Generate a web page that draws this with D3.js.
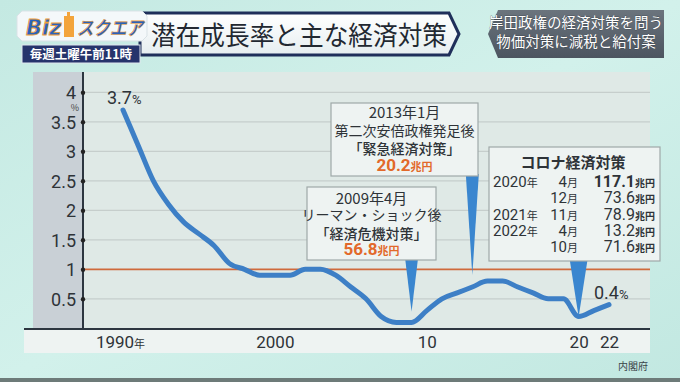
<!DOCTYPE html>
<html><head><meta charset="utf-8">
<script src="https://cdn.jsdelivr.net/npm/d3@7"></script>
<style>
html,body{margin:0;padding:0;background:#c9ece6;}
svg{display:block;font-family:"Noto Sans CJK JP","Noto Sans",sans-serif;}
</style></head>
<body>
<svg id="c" width="680" height="382"></svg>
<script>
// ---- data ----
const years = [1990,1991,1992,1993,1994,1995,1996,1997,1998,1999,2000,2001,2002,2003,2004,2005,2006,2007,2008,2009,2010,2011,2012,2013,2014,2015,2016,2017,2018,2019,2020,2021,2022];
const growth = [3.7,3.1,2.5,2.1,1.8,1.6,1.4,1.1,1.0,0.9,0.9,0.9,1.0,1.0,0.9,0.7,0.5,0.2,0.1,0.1,0.3,0.5,0.6,0.7,0.8,0.8,0.7,0.6,0.5,0.5,0.2,0.3,0.4];
const yTicks = [0.5,1,1.5,2,2.5,3,3.5,4];
const xTickYears = [1990,2000,2010,2020,2022];
const xTickLabels = ["1990","2000","10","20","22"];
const refLine = 1;
const title = "潜在成長率と主な経済対策";
const sideTitle = ["岸田政権の経済対策を問う","物価対策に減税と給付案"];
const source = "内閣府";
const pointerYears = [2009,2013,2020];
const pointerTips = [0.28,0.9,0.19];
const callout2009 = ["2009年4月","リーマン・ショック後","「経済危機対策」","56.8"];
const callout2013 = ["2013年1月","第二次安倍政権発足後","「緊急経済対策」","20.2"];
const coronaTitle = "コロナ経済対策";
const coronaYears = ["2020","","2021","2022",""];
const coronaMonths = ["4月","12月","11月","4月","10月"];
const coronaAmounts = ["117.1","73.6","78.9","13.2","71.6"];

// ---- drawing ----
const svg = d3.select("#c");
const defs = svg.append("defs");
const bg = defs.append("linearGradient").attr("id","bg").attr("x1",0).attr("y1",0).attr("x2",1).attr("y2",1);
bg.append("stop").attr("offset","0").attr("stop-color","#c4e9e2");
bg.append("stop").attr("offset","0.5").attr("stop-color","#d2f1eb");
bg.append("stop").attr("offset","1").attr("stop-color","#c2e8e1");
svg.append("rect").attr("width",680).attr("height",382).attr("fill","url(#bg)");
svg.append("rect").attr("x",0).attr("y",378).attr("width",680).attr("height",4).attr("fill","#6d7b79");

const x = d3.scaleLinear().domain([1990,2022]).range([123,609]);
const y = d3.scaleLinear().domain([0,4]).range([328.3,92.3]);

// chart panel
svg.append("rect").attr("x",33).attr("y",72).attr("width",617).attr("height",281).attr("fill","#e3ebe8");
svg.append("rect").attr("x",33).attr("y",72).attr("width",50).attr("height",256).attr("fill","#c9d0d6");
svg.append("rect").attr("x",24).attr("y",329).attr("width",626).attr("height",24).attr("fill","#eef3f2");
svg.append("rect").attr("x",83).attr("y",72).attr("width",567).attr("height",256).attr("fill","#dfe9e6");

// gridlines
svg.append("g").selectAll("line").data(yTicks.filter(d=>d!==refLine)).join("line")
  .attr("x1",83).attr("x2",650).attr("y1",d=>y(d)).attr("y2",d=>y(d))
  .attr("stroke","#c6cecc").attr("stroke-width",1.2);
svg.append("line").attr("x1",83).attr("x2",650).attr("y1",y(refLine)).attr("y2",y(refLine))
  .attr("stroke","#cf6a3c").attr("stroke-width",1.8);

// axes
svg.append("line").attr("x1",83).attr("x2",83).attr("y1",72).attr("y2",329).attr("stroke","#2d3640").attr("stroke-width",2);
svg.append("line").attr("x1",24).attr("x2",650).attr("y1",329).attr("y2",329).attr("stroke","#2d3640").attr("stroke-width",2);

const yAxis = d3.axisLeft(y).tickValues(yTicks).tickSize(0).tickPadding(7).tickFormat(d3.format("~g"));
const yg = svg.append("g").attr("transform","translate(83,0)").call(yAxis);
yg.select(".domain").remove();
yg.selectAll("text").attr("font-size",18).attr("fill","#2e3338").attr("font-family","Roboto,'Noto Sans',sans-serif").attr("dy","0.36em");
yg.selectAll(".tick").append("circle").attr("r",2.2).attr("fill","#222");
svg.append("text").attr("x",75).attr("y",111).attr("text-anchor","middle").attr("font-size",9).attr("fill","#444").text("%");

const xAxis = d3.axisBottom(x).tickValues(xTickYears).tickSize(0).tickPadding(0).tickFormat((d,i)=>xTickLabels[i]);
const xg = svg.append("g").attr("transform","translate(0,348)").call(xAxis);
xg.select(".domain").remove();
xg.selectAll("text").attr("font-size",17).attr("fill","#2e3338").attr("dy",0).attr("font-family","Roboto,'Noto Sans',sans-serif")
  .attr("dx",(d,i)=>i===0?"-3":"0");
xg.selectAll("text").filter((d,i)=>i===0).append("tspan").attr("font-size",11).attr("font-family","'Noto Sans CJK JP'").text("年");

// data line
const line = d3.line().x((d,i)=>x(years[i])).y(d=>y(d)).curve(d3.curveMonotoneX);
svg.append("path").datum(growth).attr("d",line).attr("fill","none")
  .attr("stroke","#3d7fc6").attr("stroke-width",5).attr("stroke-linejoin","round").attr("stroke-linecap","round");

// end labels
function pctLabel(xp,yp,val){
  const t = svg.append("text").attr("x",xp).attr("y",yp).attr("font-size",18).attr("fill","#2e3338").attr("font-family","Roboto,'Noto Sans',sans-serif");
  t.append("tspan").text(val);
  t.append("tspan").attr("font-size",13).text("%");
}
pctLabel(107,104,growth[0]);
pctLabel(594,299,growth[growth.length-1]);

// pointers
const boxBottoms = [260,176,261];
const halfW = [6.5,6.5,9];
const blue = "#3a86cf";
pointerYears.forEach((yr,i)=>{
  const tx = x(yr), ty = y(pointerTips[i]);
  svg.append("path").attr("d",`M${tx-halfW[i]},${boxBottoms[i]-2}L${tx+halfW[i]},${boxBottoms[i]-2}L${tx},${ty}Z`).attr("fill",blue);
});

function box(x0,y0,w,h){
  svg.append("rect").attr("x",x0).attr("y",y0).attr("width",w).attr("height",h)
    .attr("fill","#eef3f2").attr("stroke","#9fa9a8").attr("stroke-width",1.2);
}
const orange = "#e2692a";
function callout(lines,x0,y0,w,h,ys){
  box(x0,y0,w,h);
  const cx = x0+w/2;
  svg.append("text").attr("x",cx).attr("y",ys[0]).attr("text-anchor","middle").attr("font-size",15).attr("fill","#2e3338").text(lines[0]);
  svg.append("text").attr("x",cx).attr("y",ys[1]).attr("text-anchor","middle").attr("font-size",14).attr("fill","#2e3338").text(lines[1]);
  svg.append("text").attr("x",cx).attr("y",ys[2]).attr("text-anchor","middle").attr("font-size",14).attr("font-weight",500).attr("fill","#2e3338").text(lines[2]);
  const t = svg.append("text").attr("x",cx).attr("y",ys[3]).attr("text-anchor","middle").attr("fill",orange).attr("font-weight","bold");
  t.append("tspan").attr("font-size",17).attr("font-family","Roboto,'Noto Sans',sans-serif").text(lines[3]);
  t.append("tspan").attr("font-size",11).text("兆円");
}
callout(callout2013,331,103,147,73,[118,136,154,171]);
callout(callout2009,307,187,129,73,[204,220,239,255]);

// corona box
box(489,147,171,114);
svg.append("text").attr("x",573).attr("y",168).attr("text-anchor","middle").attr("font-size",15).attr("font-weight","bold").attr("fill","#2e3338").text(coronaTitle);
const rowY = [187,203,220,236,252];
coronaAmounts.forEach((a,i)=>{
  if(coronaYears[i]){
    const t = svg.append("text").attr("x",493).attr("y",rowY[i]).attr("font-size",15).attr("fill","#2e3338");
    t.append("tspan").attr("font-family","Roboto,'Noto Sans',sans-serif").text(coronaYears[i]);
    t.append("tspan").attr("font-size",11).text("年");
  }
  const m = svg.append("text").attr("x",578).attr("y",rowY[i]).attr("text-anchor","end").attr("font-size",15).attr("fill","#2e3338");
  m.append("tspan").attr("font-family","Roboto,'Noto Sans',sans-serif").text(coronaMonths[i].replace("月",""));
  m.append("tspan").attr("font-size",11).text("月");
  const v = svg.append("text").attr("x",655).attr("y",rowY[i]).attr("text-anchor","end").attr("fill","#2e3338");
  v.append("tspan").attr("font-size",16).attr("font-family","Roboto,'Noto Sans',sans-serif").attr("font-weight",i===0?"bold":"normal").text(a);
  v.append("tspan").attr("font-size",10).attr("font-weight","bold").text("兆円");
});

// source
svg.append("text").attr("x",648).attr("y",370).attr("text-anchor","end").attr("font-size",10).attr("fill","#3a4448").text(source);

// title banner
const tg = defs.append("linearGradient").attr("id","tb").attr("x1",0).attr("y1",0).attr("x2",0).attr("y2",1);
tg.append("stop").attr("offset","0").attr("stop-color","#ffffff");
tg.append("stop").attr("offset","1").attr("stop-color","#e6eef0");
svg.append("path").attr("d","M140,13L449,13L459,34L449,55L140,55Z").attr("fill","url(#tb)").attr("stroke","#1f2f5a").attr("stroke-width",3);
svg.append("text").attr("x",151).attr("y",45).attr("font-size",26).attr("fill","#222831").attr("textLength",296).attr("lengthAdjust","spacingAndGlyphs").text(title);

// logo
svg.append("path").attr("d","M22,11L142,11L147,16L147,36L142,41L22,41L17,36L17,16Z").attr("fill","#f4f8fa").attr("stroke","#d9e2e6");
svg.append("text").attr("x",26).attr("y",35).attr("font-size",21).attr("font-weight","bold").attr("font-style","italic")
  .attr("font-family","'DejaVu Sans',sans-serif").attr("fill","#2a62b8").attr("stroke","#f0a03a").attr("stroke-width",0.8).text("Biz");
svg.append("rect").attr("x",64).attr("y",16).attr("width",10).attr("height",21).attr("fill","#f3a43c");
svg.append("rect").attr("x",67).attr("y",12).attr("width",3).attr("height",5).attr("fill","#f3a43c");
svg.append("text").attr("x",77).attr("y",35).attr("font-size",19).attr("font-weight","bold").attr("font-style","italic")
  .attr("fill","#2a62b8").attr("stroke","#f0a03a").attr("stroke-width",0.6).attr("textLength",66).attr("lengthAdjust","spacingAndGlyphs").text("スクエア");
svg.append("rect").attr("x",22).attr("y",45).attr("width",118).attr("height",18).attr("fill","#26346c").attr("stroke","#dfe6ee").attr("stroke-width",1);
svg.append("text").attr("x",81).attr("y",59).attr("text-anchor","middle").attr("font-size",12.5).attr("font-weight","bold").attr("fill","#ffffff").text("毎週土曜午前11時");

// side banner
const sg = defs.append("linearGradient").attr("id","sb").attr("x1",0).attr("y1",0).attr("x2",0).attr("y2",1);
sg.append("stop").attr("offset","0").attr("stop-color","#6b747d");
sg.append("stop").attr("offset","1").attr("stop-color","#4c5560");
svg.append("path").attr("d","M488,34L498,10L664,10L664,58L498,58Z").attr("fill","url(#sb)");
sideTitle.forEach((s,i)=>{
  svg.append("text").attr("x",576).attr("y",28+i*19).attr("text-anchor","middle").attr("font-size",14.5)
    .attr("fill","#ffffff").attr("stroke","#2a2f36").attr("stroke-width",0.4).attr("paint-order","stroke").text(s);
});
</script>
</body></html>
